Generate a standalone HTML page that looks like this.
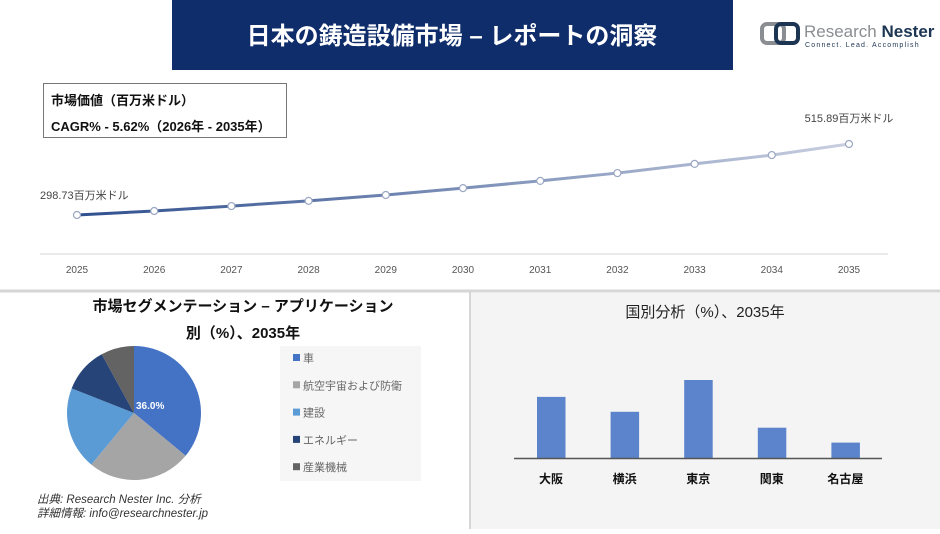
<!DOCTYPE html>
<html><head><meta charset="utf-8"><style>
body{margin:0;width:940px;height:529px;overflow:hidden;background:#fff;font-family:"Liberation Sans","Noto Sans CJK JP",sans-serif;}
svg text{font-family:"Liberation Sans","Noto Sans CJK JP",sans-serif;}
</style></head><body>
<svg width="940" height="529" id="s">
<rect x="0" y="0" width="940" height="529" fill="#fff"/>
<rect x="172" y="0" width="561" height="70" fill="#0f2c6b"/>
<text x="452" y="44" text-anchor="middle" font-size="24" font-weight="bold" fill="#fff">日本の鋳造設備市場 – レポートの洞察</text>
<g>
<rect x="762" y="24" width="22" height="19" rx="5" fill="none" stroke="#8a8d91" stroke-width="4"/>
<rect x="776" y="24" width="22" height="19" rx="5" fill="none" stroke="#1c3553" stroke-width="4"/>
<text x="804" y="37" font-size="17" fill="#8a8d91">Research <tspan fill="#1c3553" font-weight="bold">Nester</tspan></text>
<text x="805" y="47" font-size="7" fill="#1c3553" letter-spacing="1.2">Connect. Lead. Accomplish</text>
</g>
<g>
<rect x="43.5" y="83.5" width="243" height="54" fill="#fff" stroke="#777" stroke-width="1"/>
<text x="51" y="105" font-size="13" font-weight="bold" fill="#111">市場価値（百万米ドル）</text>
<text x="51" y="131" font-size="13" font-weight="bold" fill="#111">CAGR% - 5.62%（2026年 - 2035年）</text>
</g>
<line x1="40" y1="254" x2="888" y2="254" stroke="#e4e4e4" stroke-width="1.5"/>
<defs><linearGradient id="lg" x1="0" x2="1" y1="0" y2="0"><stop offset="0" stop-color="#2f4f8e"/><stop offset="1" stop-color="#c8cfe0"/></linearGradient></defs>
<g id="line"></g>
<line x1="0" y1="291" x2="940" y2="291" stroke="#d6d6d6" stroke-width="3"/>
<rect x="471" y="293" width="469" height="236" fill="#f4f4f4"/>
<line x1="470" y1="292" x2="470" y2="529" stroke="#d6d6d6" stroke-width="2"/>
<text x="243" y="311" text-anchor="middle" font-size="15" font-weight="bold" fill="#111">市場セグメンテーション – アプリケーション</text>
<text x="243" y="338" text-anchor="middle" font-size="15" font-weight="bold" fill="#111">別（%）、2035年</text>
<g id="pie"></g>
<rect x="280" y="346" width="141" height="135" fill="#f6f6f6"/>
<g id="legend"></g>
<text x="37" y="503" font-size="11.5" font-style="italic" fill="#333">出典: Research Nester Inc. 分析</text>
<text x="37" y="517" font-size="11.5" font-style="italic" fill="#333">詳細情報: info@researchnester.jp</text>
<text x="705" y="317" text-anchor="middle" font-size="15" fill="#222">国別分析（%）、2035年</text>
<g id="bars"></g>
</svg>
<script>
const years=["2025","2026","2027","2028","2029","2030","2031","2032","2033","2034","2035"];
const values=[298.73,311,326,342,360,381,403,427,455,482,515.89];
const firstLabel="298.73百万米ドル";
const lastLabel="515.89百万米ドル";
const segments=["車","航空宇宙および防衛","建設","エネルギー","産業機械"];
const shares=[36,25,20,11,8];
const segColors=["#4472c4","#a5a5a5","#5b9bd5","#264478","#636363"];
const countries=["大阪","横浜","東京","関東","名古屋"];
const countryVals=[62,47,79,31,16];
const NS="http://www.w3.org/2000/svg";
function mk(t,a,p){const e=document.createElementNS(NS,t);for(const k in a)e.setAttribute(k,a[k]);p.appendChild(e);return e;}
// line chart
const xL=i=>77+i*(849-77)/(years.length-1);
const yL=v=>215-(v-298.73)*(215-144)/(515.89-298.73);
const lg=document.getElementById('line');
const pl=mk('polyline',{points:values.map((v,i)=>xL(i)+','+yL(v)).join(' '),fill:'none',stroke:'url(#lg)','stroke-width':3},lg);


values.forEach((v,i)=>{
 const c=mk('circle',{cx:xL(i),cy:yL(v),r:3.5,fill:'#fff',stroke:'#9aa6c2','stroke-width':1.2},lg);
 
 
 const t=mk('text',{x:xL(i),y:273,'text-anchor':'middle','font-size':10,fill:'#555'},lg);t.textContent=years[i];
 
 
});
let t1=mk('text',{x:40,y:yL(values[0])-16,'font-size':11,fill:'#444'},lg);t1.textContent=firstLabel;


let t2=mk('text',{x:849,y:yL(values[10])-22,'text-anchor':'middle','font-size':11,fill:'#444'},lg);t2.textContent=lastLabel;


// pie
const pg=document.getElementById('pie');const cx=134,cy=413,R=67;
let tot=shares.reduce((a,b)=>a+b,0),acc=0;
shares.forEach((s,i)=>{
 const a0=acc/tot*2*Math.PI;acc+=s;const a1=acc/tot*2*Math.PI;
 const p=(a)=>[cx+R*Math.sin(a),cy-R*Math.cos(a)];
 const [x0,y0]=p(a0),[x1,y1]=p(a1);
 const path=mk('path',{d:`M${cx},${cy}L${x0},${y0}A${R},${R} 0 ${a1-a0>Math.PI?1:0} 1 ${x1},${y1}Z`,fill:segColors[i]},pg);
 
 
});
const pt=mk('text',{x:136,y:409,'font-size':10,'font-weight':'bold',fill:'#fff'},pg);pt.textContent=shares[0].toFixed(1)+'%';


const lgd=document.getElementById('legend');
segments.forEach((s,i)=>{
 const y=359+i*27.3;
 const g=mk('g',{},lgd);
 
 
 mk('rect',{x:293,y:y-5,width:7,height:7,fill:segColors[i]},g);
 const t=mk('text',{x:303,y:y+3,'font-size':11,fill:'#666'},g);t.textContent=s;
});
// bars
const bg=document.getElementById('bars');
const base=458.5,scale=(458.5-380)/79;
countries.forEach((c,i)=>{
 const x=537+i*73.6;const h=countryVals[i]*scale;
 const r=mk('rect',{x:x,y:base-h,width:28.5,height:h,fill:'#5b84cc'},bg);
 
 
 const t=mk('text',{x:x+14,y:483,'text-anchor':'middle','font-size':12,'font-weight':'bold',fill:'#111'},bg);t.textContent=c;
 
 
});
const ax=mk('line',{x1:514,y1:base,x2:882,y2:base,stroke:'#555','stroke-width':1.5},bg);


</script>
</body></html>
